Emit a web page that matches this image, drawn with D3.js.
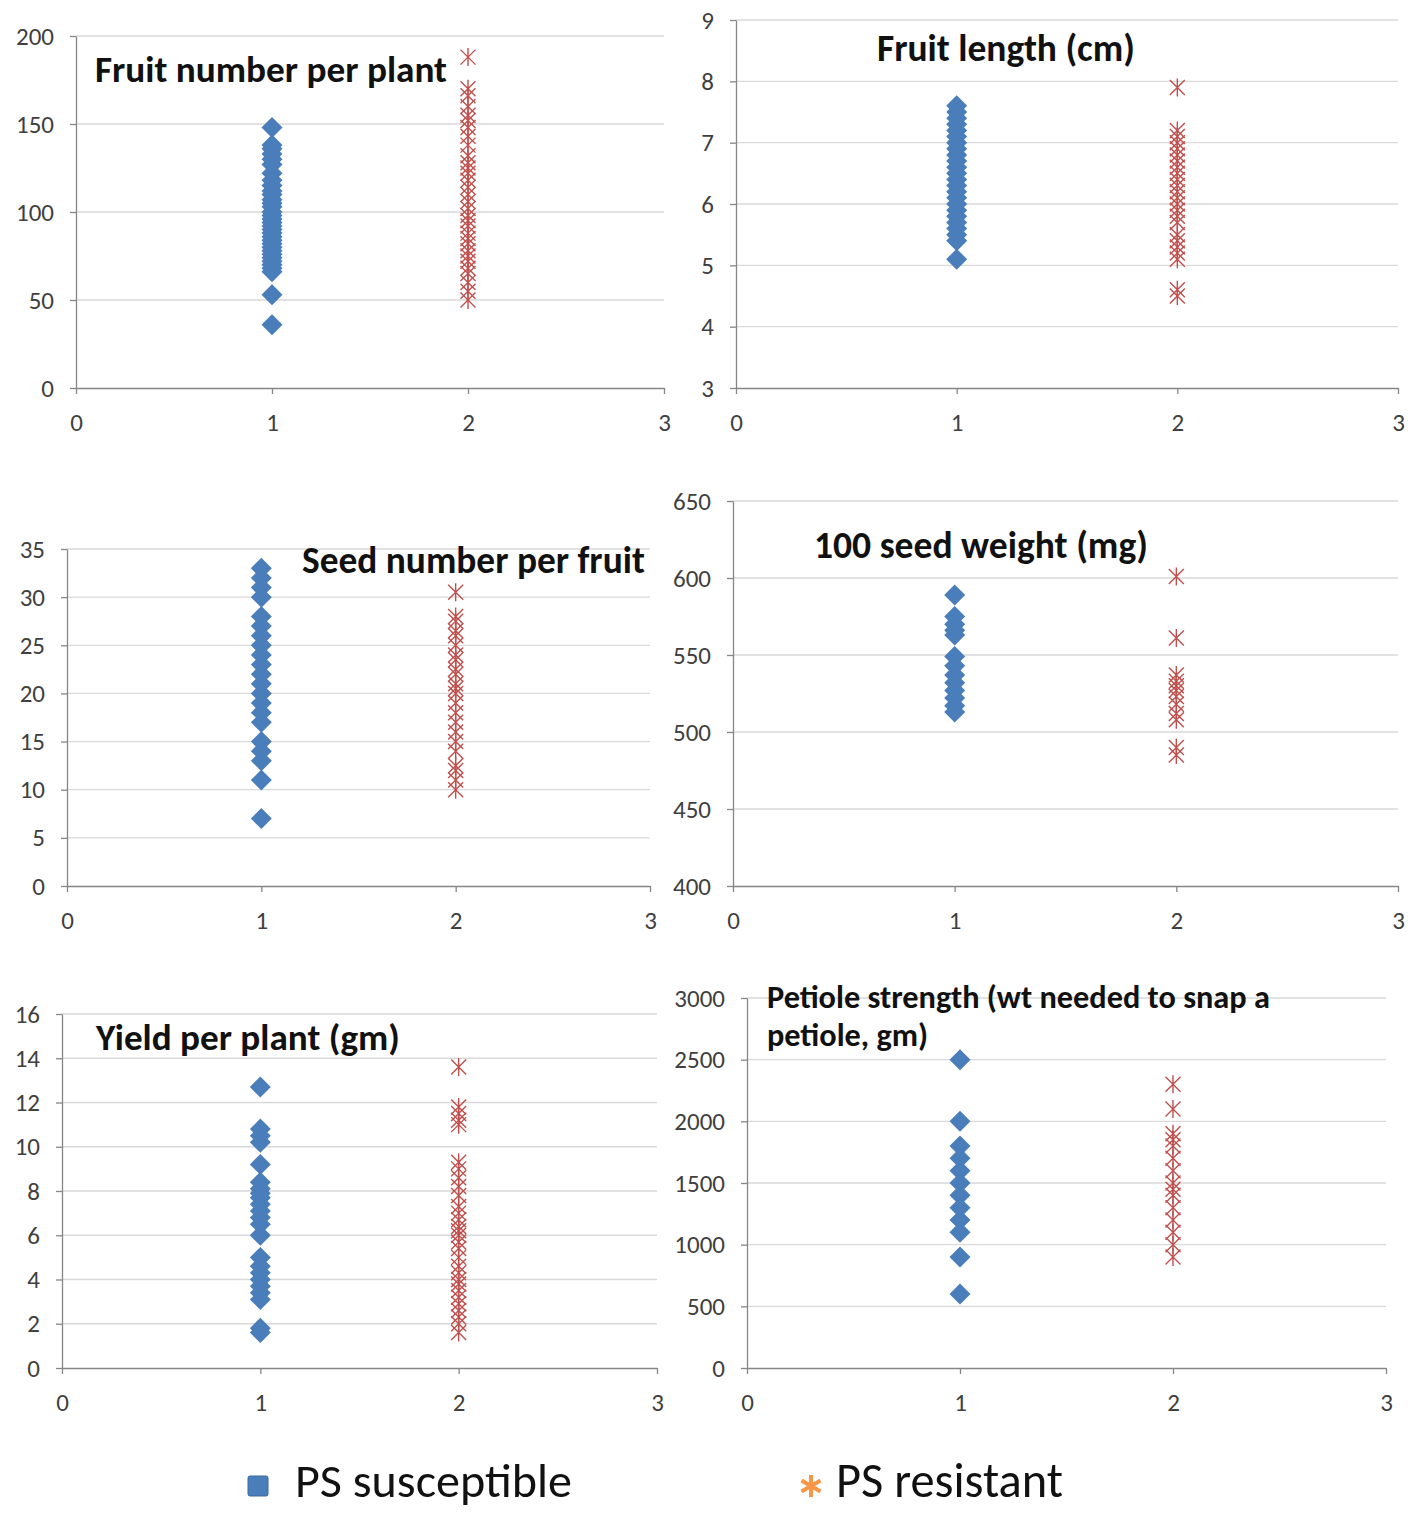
<!DOCTYPE html>
<html>
<head>
<meta charset="utf-8">
<script src="https://cdn.jsdelivr.net/npm/d3@7"></script>
<style>
  html, body { margin: 0; padding: 0; background: #fff; }
  svg { display: block; }
  text { font-family: Carlito, Calibri, Lato, "Open Sans", sans-serif; }
</style>
</head>
<body>
<script>
// ---- data: one value per plant, group 1 = PS susceptible, group 2 = PS resistant ----
const groups = [1, 2];
const xTicks = [0, 1, 2, 3];

const fruitNumberSusceptible = [148, 138, 136, 133, 130, 127, 122, 118, 115, 112, 110, 107, 105, 103, 100, 98, 96, 94, 92, 90, 88, 86, 84, 82, 80, 78, 76, 74, 72, 70, 68, 66, 53, 36];
const fruitNumberResistant = [188, 170, 166, 160, 155, 152, 148, 143, 138, 132, 128, 125, 122, 118, 114, 110, 106, 102, 98, 95, 92, 88, 85, 82, 78, 75, 72, 68, 65, 60, 55, 50];
const fruitNumberTicks = [0, 50, 100, 150, 200];

const fruitLengthSusceptible = [7.6, 7.5, 7.4, 7.3, 7.2, 7.1, 7.0, 6.9, 6.8, 6.7, 6.6, 6.5, 6.4, 6.3, 6.2, 6.1, 6.0, 5.9, 5.8, 5.7, 5.6, 5.5, 5.4, 5.1];
const fruitLengthResistant = [7.9, 7.2, 7.1, 7.0, 6.9, 6.8, 6.7, 6.6, 6.5, 6.4, 6.3, 6.2, 6.1, 6.0, 5.9, 5.8, 5.7, 5.5, 5.4, 5.3, 5.2, 5.1, 4.6, 4.5];
const fruitLengthTicks = [3, 4, 5, 6, 7, 8, 9];

const seedNumberSusceptible = [33, 32, 31, 30, 28, 27, 26, 25, 24, 23, 22, 21, 20, 19, 18, 17, 15, 14, 13, 11, 7];
const seedNumberResistant = [30.5, 28, 27.5, 26.5, 26, 25, 24, 23.5, 22.5, 22, 21, 20.5, 20, 19, 18, 17, 16, 15, 14, 12.5, 12, 11, 10];
const seedNumberTicks = [0, 5, 10, 15, 20, 25, 30, 35];

const seedWeightSusceptible = [589, 575, 570, 566, 563, 549, 543, 537, 532, 527, 522, 517, 513];
const seedWeightResistant = [601, 561, 537, 533, 530, 527, 523, 518, 512, 508, 490, 485];
const seedWeightTicks = [400, 450, 500, 550, 600, 650];

const yieldSusceptible = [12.7, 10.8, 10.5, 10.2, 9.2, 8.4, 8.1, 7.9, 7.7, 7.4, 7.1, 6.8, 6.5, 6.0, 5.0, 4.6, 4.3, 4.0, 3.7, 3.4, 3.1, 1.8, 1.6];
const yieldResistant = [13.6, 11.8, 11.5, 11.2, 11.0, 9.3, 9.0, 8.6, 8.2, 7.8, 7.3, 7.0, 6.7, 6.4, 6.2, 6.0, 5.7, 5.4, 5.0, 4.6, 4.3, 4.0, 3.8, 3.5, 3.2, 2.9, 2.6, 2.3, 2.0, 1.6];
const yieldTicks = [0, 2, 4, 6, 8, 10, 12, 14, 16];

const petioleSusceptible = [2500, 2000, 1800, 1700, 1600, 1500, 1400, 1300, 1200, 1100, 900, 600];
const petioleResistant = [2300, 2100, 1900, 1850, 1800, 1700, 1600, 1500, 1450, 1400, 1300, 1200, 1100, 1000, 900];
const petioleTicks = [0, 500, 1000, 1500, 2000, 2500, 3000];

const seriesNames = ["PS susceptible", "PS resistant"];

// ---- panel layout (pixel frame of each plot area) ----
const panels = [
  { title: ["Fruit number per plant"], s: fruitNumberSusceptible, r: fruitNumberResistant, ticks: fruitNumberTicks,
    left: 76, right: 664, top: 36, bottom: 388, tx: 95, ty: 82, tw: 352, fs: 31 },
  { title: ["Fruit length (cm)"], s: fruitLengthSusceptible, r: fruitLengthResistant, ticks: fruitLengthTicks,
    left: 736, right: 1398, top: 20, bottom: 388, tx: 877, ty: 61, tw: 258, fs: 31 },
  { title: ["Seed number per fruit"], s: seedNumberSusceptible, r: seedNumberResistant, ticks: seedNumberTicks,
    left: 67, right: 650, top: 549, bottom: 886, tx: 302, ty: 573, tw: 343, fs: 31 },
  { title: ["100 seed weight (mg)"], s: seedWeightSusceptible, r: seedWeightResistant, ticks: seedWeightTicks,
    left: 733, right: 1398, top: 501, bottom: 886, tx: 814, ty: 558, tw: 334, fs: 31 },
  { title: ["Yield per plant (gm)"], s: yieldSusceptible, r: yieldResistant, ticks: yieldTicks,
    left: 62, right: 657, top: 1014, bottom: 1368, tx: 96, ty: 1050, tw: 304, fs: 31 },
  { title: ["Petiole strength (wt needed to snap a", "petiole, gm)"], s: petioleSusceptible, r: petioleResistant, ticks: petioleTicks,
    left: 747, right: 1386, top: 998, bottom: 1368, tx: 767, ty: 1008, tw: 503, fs: 25, lh: 38 }
];

const blue = "#4A7EBB";
const red = "#C0504D";
const orange = "#F79646";
const gridColor = "#D9D9D9";
const axisColor = "#868686";
const labelColor = "#3F3F3F";
const tickFont = 25;

const svg = d3.select("body").append("svg")
  .attr("width", 1408).attr("height", 1513)
  .attr("viewBox", "0 0 1408 1513");

svg.append("rect").attr("width", 1408).attr("height", 1513).attr("fill", "#fff");

const diamond = "M0,-10.5L10.5,0L0,10.5L-10.5,0Z";
const star = "M0,-9V9M-7.5,-7.5L7.5,7.5M-7.5,7.5L7.5,-7.5";

// scale a text's font so that it spans the given width; returns the size used
function fitText(sel, width) {
  const fs = parseFloat(sel.attr("font-size"));
  const w = sel.node().getComputedTextLength();
  const size = w > 0 ? fs * width / w : fs;
  sel.attr("font-size", size);
  return size;
}

panels.forEach(p => {
  const x = d3.scaleLinear().domain([0, 3]).range([p.left, p.right]);
  const y = d3.scaleLinear().domain([p.ticks[0], p.ticks[p.ticks.length - 1]]).range([p.bottom, p.top]);
  const g = svg.append("g");

  // horizontal gridlines
  g.append("g").selectAll("line").data(p.ticks.slice(1)).join("line")
    .attr("x1", p.left).attr("x2", p.right)
    .attr("y1", d => y(d)).attr("y2", d => y(d))
    .attr("stroke", gridColor).attr("stroke-width", 1.3);

  // y axis
  const ya = g.append("g").attr("transform", `translate(${p.left},0)`)
    .call(d3.axisLeft(y).tickValues(p.ticks).tickFormat(d => String(d))
      .tickSize(6).tickPadding(16).tickSizeOuter(0));
  ya.select(".domain").attr("stroke", axisColor).attr("stroke-width", 1.3);
  ya.selectAll(".tick line").attr("stroke", axisColor).attr("stroke-width", 1.3);
  ya.selectAll(".tick text").attr("fill", labelColor).attr("font-size", tickFont)
    .attr("font-family", "Carlito, Calibri, Lato, sans-serif");

  // x axis
  const xa = g.append("g").attr("transform", `translate(0,${p.bottom})`)
    .call(d3.axisBottom(x).tickValues(xTicks).tickFormat(d => String(d))
      .tickSize(6).tickPadding(19).tickSizeOuter(0));
  xa.select(".domain").attr("stroke", axisColor).attr("stroke-width", 1.3);
  xa.selectAll(".tick line").attr("stroke", axisColor).attr("stroke-width", 1.3);
  xa.selectAll(".tick text").attr("fill", labelColor).attr("font-size", tickFont)
    .attr("font-family", "Carlito, Calibri, Lato, sans-serif");

  // susceptible: blue diamonds at x = 1
  g.append("g").selectAll("path").data(p.s).join("path")
    .attr("d", diamond)
    .attr("transform", d => `translate(${x(groups[0])},${y(d)})`)
    .attr("fill", blue);

  // resistant: red asterisks at x = 2
  g.append("g").selectAll("path").data(p.r).join("path")
    .attr("d", star)
    .attr("transform", d => `translate(${x(groups[1])},${y(d)})`)
    .attr("fill", "none").attr("stroke", red).attr("stroke-width", 1.4);

  // panel title (first line sets the size, later lines reuse it)
  let titleSize = p.fs;
  p.title.forEach((line, i) => {
    const t = g.append("text")
      .attr("x", p.tx).attr("y", p.ty + i * (p.lh || 0))
      .attr("font-size", titleSize).attr("font-weight", "bold").attr("fill", "#111")
      .text(line);
    if (i === 0) titleSize = fitText(t, p.tw);
  });
});

// ---- legend ----
const legend = svg.append("g");
legend.append("rect").attr("x", 248).attr("y", 1476).attr("width", 20).attr("height", 20)
  .attr("rx", 2).attr("fill", blue).attr("stroke", "#3A68A0").attr("stroke-width", 1);
const l1 = legend.append("text").attr("x", 295).attr("y", 1497).attr("font-size", 38).attr("fill", "#111")
  .text(seriesNames[0]);
fitText(l1, 277);
legend.append("path")
  .attr("d", "M0,-11V11M-9.5,-5.5L9.5,5.5M-9.5,5.5L9.5,-5.5")
  .attr("transform", "translate(811,1486)")
  .attr("fill", "none").attr("stroke", orange).attr("stroke-width", 4);
const l2 = legend.append("text").attr("x", 836).attr("y", 1497).attr("font-size", 38).attr("fill", "#111")
  .text(seriesNames[1]);
fitText(l2, 227);
</script>
</body>
</html>
